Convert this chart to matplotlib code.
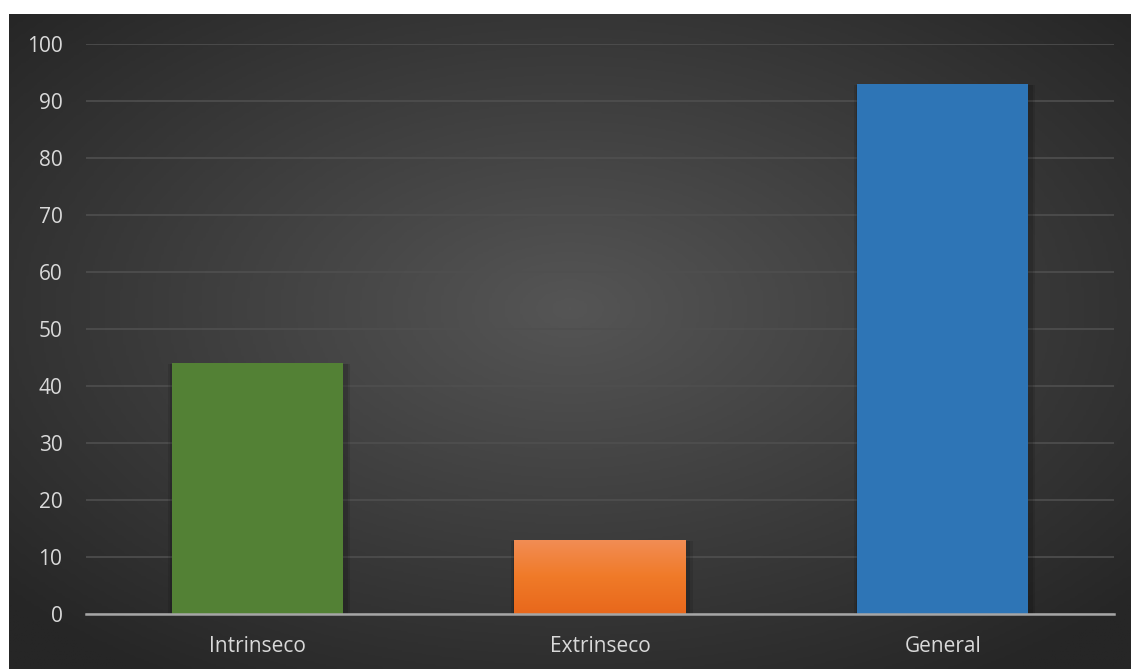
import matplotlib.pyplot as plt
import numpy as np
from matplotlib.colors import LinearSegmentedColormap

categories = ["Intrinseco", "Extrinseco", "General"]
values = [44, 13, 93]
bar_colors = ["#538135", "#ee7a2c", "#2e75b6"]
yticks = [0, 10, 20, 30, 40, 50, 60, 70, 80, 90, 100]

W, H = 1131, 669
fig = plt.figure(figsize=(W / 100, H / 100), dpi=100, facecolor="white")

# dark radial-gradient panel behind the chart
bg = fig.add_axes([9 / W, 0, 1 - 9 / W, 1 - 14 / H])
bg.set_axis_off()
gx, gy = np.meshgrid(np.linspace(-1, 1, 400), np.linspace(-1, 1, 240))
r = np.clip(np.sqrt(gx ** 2 + (gy + 0.1) ** 2) / 1.35, 0, 1)
bg_cmap = LinearSegmentedColormap.from_list("bg", ["#555555", "#262626"])
bg.imshow(r, cmap=bg_cmap, aspect="auto", extent=[0, 1, 0, 1], vmin=0, vmax=1)
bg.set_xlim(0, 1)
bg.set_ylim(0, 1)

ax = fig.add_axes([86 / W, (H - 614) / H, (1114 - 86) / W, (614 - 44) / H])
ax.set_facecolor("none")
x = np.arange(len(categories))
width = 0.5

# soft shadows
for xi, v in zip(x, values):
    for k, a in [(0.03, 0.10), (0.018, 0.12)]:
        ax.bar(xi + 0.005, v + 0.3, width + k, bottom=-0.5, color="black",
               alpha=a, zorder=2, linewidth=0)

bars = ax.bar(x, values, width, color=bar_colors, zorder=3, linewidth=0)

# orange bar has a vertical gradient
orange = bars[1]
grad = np.linspace(0, 1, 100).reshape(-1, 1)
og = LinearSegmentedColormap.from_list("og", ["#e8681c", "#f07a28", "#f28d55"])
im = ax.imshow(grad, cmap=og, aspect="auto", origin="lower", zorder=3.5,
               extent=[x[1] - width / 2, x[1] + width / 2, 0, values[1]])
im.set_clip_path(orange)

ax.set_xlim(-0.5, 2.5)
ax.set_ylim(0, 100)
ax.set_yticks(yticks)
ax.set_xticks(x)
ax.set_xticklabels(categories)
ax.grid(axis="y", color="#4f4f4f", linewidth=1.2, zorder=0)
ax.set_axisbelow(True)
for s in ["top", "right", "left"]:
    ax.spines[s].set_visible(False)
ax.spines["bottom"].set_color("#a6a6a6")
ax.spines["bottom"].set_linewidth(1.8)
ax.spines["bottom"].set_zorder(4)
ax.tick_params(axis="both", length=0, colors="#d9d9d9", labelsize=15)
ax.tick_params(axis="y", pad=17)
ax.tick_params(axis="x", pad=15.5)
for lab in ax.get_xticklabels() + ax.get_yticklabels():
    lab.set_fontfamily("Open Sans")

fig.savefig("out.png", dpi=100, facecolor="white")
